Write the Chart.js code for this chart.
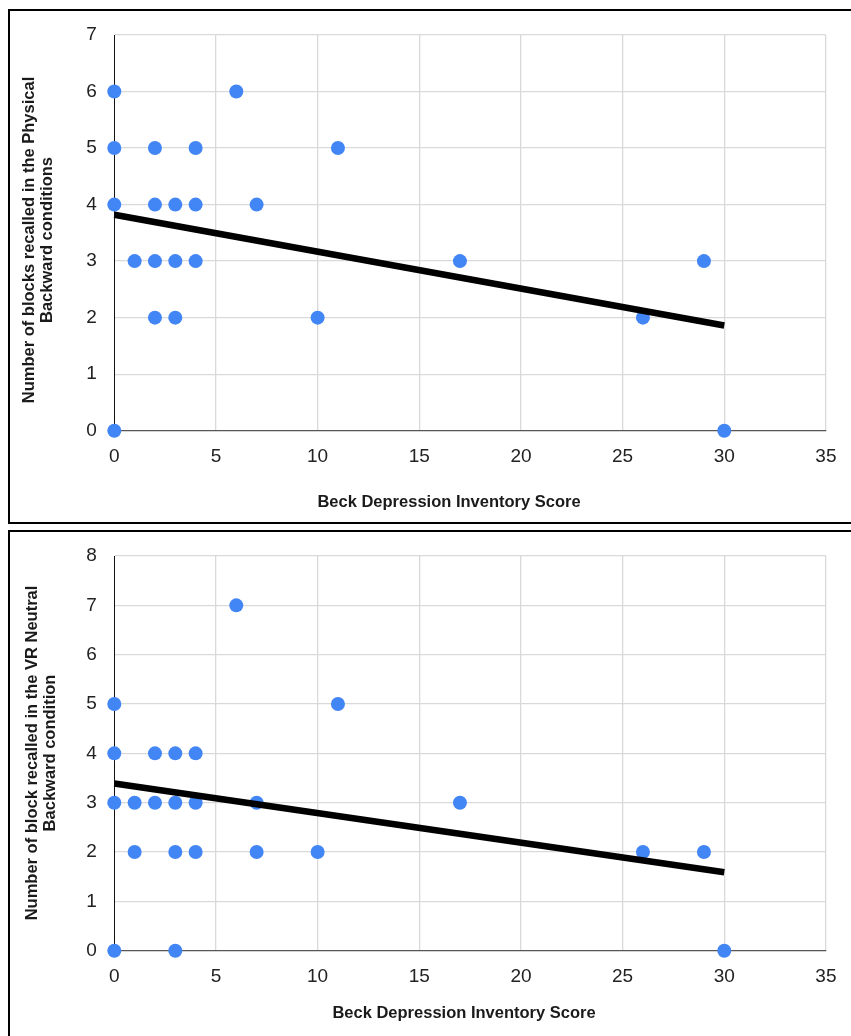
<!DOCTYPE html>
<html>
<head>
<meta charset="utf-8">
<script src="https://cdn.jsdelivr.net/npm/chart.js@4/dist/chart.umd.min.js"></script>
<style>
  body { margin: 0; background: #fff; width: 851px; height: 1036px; overflow: hidden; position: relative; }
  .box { position: absolute; left: 8px; width: 900px; box-sizing: border-box; border: 0 solid #000; border-left-width: 2px; border-top-width: 2px; }
  #box1 { top: 9px; height: 515px; border-bottom-width: 2px; }
  #box2 { top: 530px; height: 600px; }
  canvas { position: absolute; left: 10px; }
  #physical { top: 11px; }
  #vr { top: 532px; }
</style>
</head>
<body>
<div class="box" id="box1"></div>
<div class="box" id="box2"></div>
<canvas id="physical" width="841" height="511"></canvas>
<canvas id="vr" width="841" height="504"></canvas>

<script>
// Beck Depression Inventory score vs blocks recalled
const physicalX = [0, 0, 0, 0, 1, 2, 2, 2, 2, 3, 3, 3, 4, 4, 4, 6, 7, 10, 11, 17, 26, 29, 30];
const physicalY = [6, 5, 4, 0, 3, 5, 4, 3, 2, 4, 3, 2, 5, 4, 3, 6, 4, 2, 5, 3, 2, 3, 0];
const physicalTrendX = [0, 30];
const physicalTrendY = [3.82, 1.86];

const vrX = [0, 0, 0, 0, 1, 1, 2, 2, 3, 3, 3, 3, 4, 4, 4, 6, 7, 7, 10, 11, 17, 26, 29, 30];
const vrY = [5, 4, 3, 0, 3, 2, 4, 3, 4, 3, 2, 0, 4, 3, 2, 7, 3, 2, 2, 5, 3, 2, 2, 0];
const vrTrendX = [0, 30];
const vrTrendY = [3.39, 1.59];

const xMin = 0, xMax = 35, xStep = 5;
const physicalYMax = 7;
const vrYMax = 8;
const xTitle = 'Beck Depression Inventory Score';
const physicalYTitle = ['Number of blocks recalled in the Physical', 'Backward conditions'];
const vrYTitle = ['Number of block recalled in the VR Neutral', 'Backward condition'];

const FONT = '"Liberation Sans", Arial, sans-serif';

// draws the axis titles where the original sheet had them
const axisTitles = {
  id: 'axisTitles',
  afterDraw(chart, args, opts) {
    const ctx = chart.ctx;
    ctx.save();
    ctx.fillStyle = '#1a1a1a';
    ctx.font = 'bold 16.5px ' + FONT;
    ctx.textAlign = 'center';
    ctx.textBaseline = 'middle';
    ctx.fillText(opts.xText, opts.xPos[0], opts.xPos[1]);
    ctx.translate(opts.yPos[0], opts.yPos[1]);
    ctx.rotate(-Math.PI / 2);
    opts.yText.forEach((line, i) => ctx.fillText(line, 0, i * opts.lineGap));
    ctx.restore();
  }
};

function gridColor(c) {
  return c.tick && c.tick.value === 0 ? 'rgba(0,0,0,0)' : '#d9d9d9';
}

function makeChart(id, xs, ys, tx, ty, yMax, yTitle, xAxisHeight, titlePos) {
  const points = xs.map((x, i) => ({ x: x, y: ys[i] }));
  const trend = tx.map((x, i) => ({ x: x, y: ty[i] }));
  return new Chart(document.getElementById(id), {
    type: 'scatter',
    data: {
      datasets: [
        {
          data: trend,
          showLine: true,
          borderColor: '#000',
          borderWidth: 6.5,
          borderCapStyle: 'butt',
          pointRadius: 0,
          clip: false,
          order: 0
        },
        {
          data: points,
          backgroundColor: '#4285f4',
          borderWidth: 0,
          pointRadius: 7,
          clip: false,
          order: 1
        }
      ]
    },
    options: {
      responsive: false,
      animation: false,
      events: [],
      layout: { padding: { top: 24, right: 25, left: 0, bottom: 0 } },
      plugins: {
        legend: { display: false },
        tooltip: { enabled: false },
        axisTitles: { xText: xTitle, yText: yTitle, xPos: titlePos.x, yPos: titlePos.y, lineGap: 18 }
      },
      scales: {
        x: {
          type: 'linear',
          min: xMin,
          max: xMax,
          ticks: { stepSize: xStep, padding: 14.5, color: '#222', font: { family: FONT, size: 19 } },
          grid: { color: gridColor, lineWidth: 1.3, drawTicks: false },
          border: { color: '#555', width: 1.3 },
          afterFit: s => { s.height = xAxisHeight; }
        },
        y: {
          min: 0,
          max: yMax,
          // gap between labels and axis comes from an invisible tick mark,
          // so the top of the plot is not pushed down by tick padding
          ticks: { stepSize: 1, padding: 0, color: '#222', font: { family: FONT, size: 19 } },
          grid: { color: gridColor, lineWidth: 1.3, drawTicks: true, tickLength: 17.5, tickColor: 'rgba(0,0,0,0)' },
          border: { color: '#111', width: 1 },
          afterFit: s => { s.width = 104.3; }
        }
      }
    },
    plugins: [axisTitles]
  });
}

makeChart('physical', physicalX, physicalY, physicalTrendX, physicalTrendY, physicalYMax,
  physicalYTitle, 91.3, { x: [439, 491], y: [19.4, 229] });
makeChart('vr', vrX, vrY, vrTrendX, vrTrendY, vrYMax,
  vrYTitle, 85.3, { x: [454, 481], y: [22, 221] });
</script>
</body>
</html>
